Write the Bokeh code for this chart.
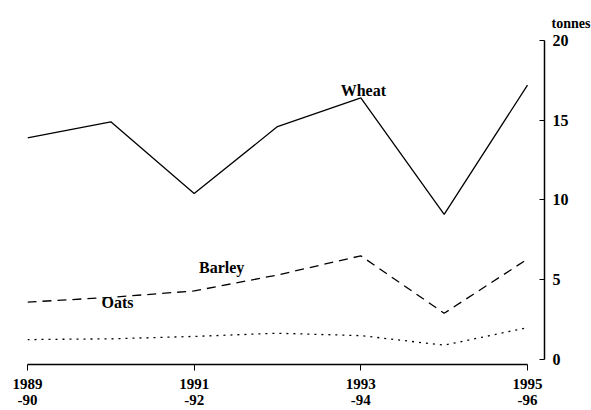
from bokeh.plotting import figure
from bokeh.models import Range1d, LinearAxis, FixedTicker, Label, Title
from bokeh.embed import file_html
from bokeh.resources import INLINE

years = [1989, 1990, 1991, 1992, 1993, 1994, 1995]
wheat = [13.9, 14.9, 10.4, 14.6, 16.4, 9.1, 17.2]
barley = [3.6, 3.9, 4.3, 5.3, 6.5, 2.9, 6.3]
oats = [1.25, 1.3, 1.45, 1.65, 1.5, 0.9, 2.0]

x_ticks = [1989, 1991, 1993, 1995]
x_tick_labels = ["1989\n-90", "1991\n-92", "1993\n-94", "1995\n-96"]
y_ticks = [0, 5, 10, 15, 20]

series_names = ["Wheat", "Barley", "Oats"]
name_x = [1993.03, 1991.33, 1990.08]
name_y = [16.87, 5.77, 3.57]

FONT = "Liberation Serif"

p = figure(width=591, height=410, output_backend="svg", toolbar_location=None,
           x_range=Range1d(1989, 1995.204), y_range=Range1d(-0.31, 20.56),
           min_border_left=27, min_border_right=47, min_border_top=31,
           min_border_bottom=46, x_axis_type=None, y_axis_type=None)
p.outline_line_color = None
p.grid.visible = False
p.background_fill_color = "white"
p.border_fill_color = "white"

unit_title = Title(text="tonnes", align="right", offset=-46, standoff=2,
                   text_font=FONT, text_font_style="bold", text_font_size="14px",
                   text_color="black")
p.add_layout(unit_title, "above")

xaxis = LinearAxis(ticker=FixedTicker(ticks=x_ticks), bounds=(1989, 1995))
xaxis.major_label_overrides = {t: l for t, l in zip(x_ticks, x_tick_labels)}
xaxis.major_tick_in = 0
xaxis.major_tick_out = 6
xaxis.minor_tick_line_color = None
xaxis.major_label_standoff = 5
xaxis.major_label_text_font = FONT
xaxis.major_label_text_font_style = "bold"
xaxis.major_label_text_font_size = "15px"
xaxis.major_label_text_line_height = 1.0
xaxis.major_label_text_color = "black"
xaxis.axis_line_width = 1.3
p.add_layout(xaxis, "below")

yaxis = LinearAxis(ticker=FixedTicker(ticks=y_ticks), bounds=(0, 20))
yaxis.major_tick_in = 5
yaxis.major_tick_out = 0
yaxis.minor_tick_line_color = None
yaxis.major_label_standoff = 8
yaxis.major_label_text_font = FONT
yaxis.major_label_text_font_style = "bold"
yaxis.major_label_text_font_size = "16px"
yaxis.major_label_text_color = "black"
yaxis.axis_line_width = 1.5
p.add_layout(yaxis, "right")

p.line(years, wheat, line_color="black", line_width=1.3)
p.line(years, barley, line_color="black", line_width=1.3, line_dash="9 6")
p.line(years, oats, line_color="black", line_width=1.3, line_dash="2 5")

for name, nx, ny in zip(series_names, name_x, name_y):
    p.add_layout(Label(x=nx, y=ny, text=name, text_font=FONT, text_font_style="bold",
                       text_font_size="16px", text_align="center", text_baseline="middle",
                       text_color="black"))

open("out.html", "w").write(file_html(p, INLINE))
